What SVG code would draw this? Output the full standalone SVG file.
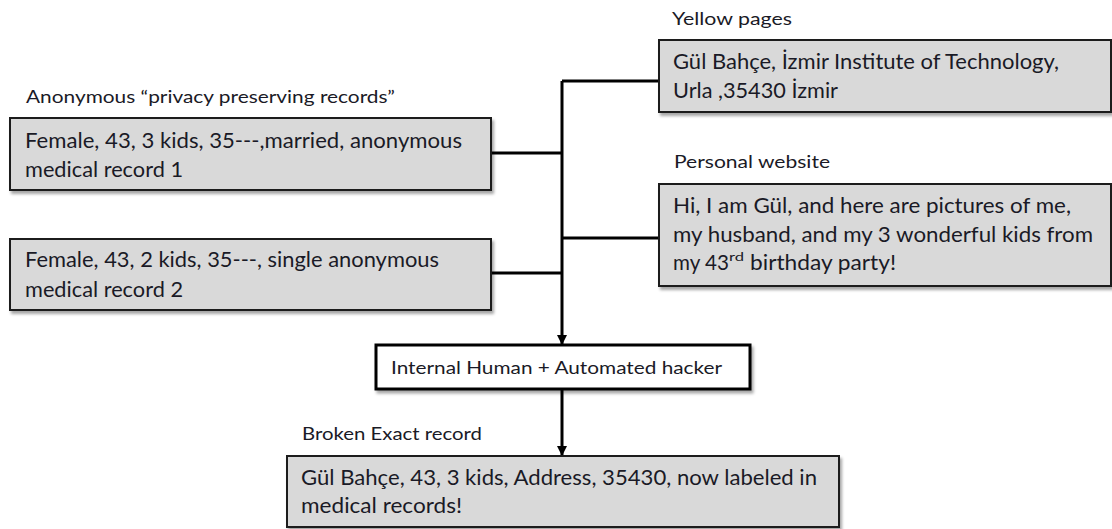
<svg xmlns="http://www.w3.org/2000/svg" width="1112" height="529" viewBox="0 0 1112 529">
  <defs>
    <filter id="shadow" x="-5%" y="-10%" width="115%" height="130%">
      <feDropShadow dx="2" dy="3" stdDeviation="1.5" flood-color="#000" flood-opacity="0.35"/>
    </filter>
    <marker id="arrow" viewBox="0 0 10 10" refX="10" refY="5" markerWidth="10" markerHeight="10" markerUnits="userSpaceOnUse" orient="auto">
      <path d="M0,0 L10,5 L0,10 Z" fill="#000"/>
    </marker>
    <style>
      .rec { fill: #d9d9d9; stroke: #1a1a1a; stroke-width: 2; filter: url(#shadow); }
      .proc { fill: #ffffff; stroke: #000; stroke-width: 3; filter: url(#shadow); }
      .txt { font-family: Lato, "Open Sans", sans-serif; font-size: 21px; fill: #1a1a26; }
      .lbl { font-family: Lato, "Open Sans", sans-serif; font-size: 18px; fill: #1a1a26; }
      .sup { font-family: Lato, "Open Sans", sans-serif; font-size: 12px; fill: #1a1a26; }
      .wire { fill: none; stroke: #000; stroke-width: 3; }
    </style>
  </defs>

  <!-- connectors -->
  <g id="connectors">
    <path class="wire" d="M562,81 L562,345" marker-end="url(#arrow)"/>
    <path class="wire" d="M562,81 L659,81"/>
    <path class="wire" d="M491,153 L562,153"/>
    <path class="wire" d="M562,238 L659,238"/>
    <path class="wire" d="M491,273 L562,273"/>
    <path class="wire" d="M562,389 L562,456" marker-end="url(#arrow)"/>
  </g>

  <!-- anonymous record 1 -->
  <g id="record1">
    <text class="lbl" x="26" y="103" textLength="369" lengthAdjust="spacingAndGlyphs">Anonymous “privacy preserving records”</text>
    <rect class="rec" x="10" y="118" width="481" height="72"/>
    <text class="txt" x="25" y="148" textLength="437" lengthAdjust="spacingAndGlyphs">Female, 43, 3 kids, 35---,married, anonymous</text>
    <text class="txt" x="25" y="177" textLength="158" lengthAdjust="spacingAndGlyphs">medical record 1</text>
  </g>

  <!-- anonymous record 2 -->
  <g id="record2">
    <rect class="rec" x="10" y="239" width="481" height="71"/>
    <text class="txt" x="25" y="267" textLength="414" lengthAdjust="spacingAndGlyphs">Female, 43, 2 kids, 35---, single anonymous</text>
    <text class="txt" x="25" y="297" textLength="158" lengthAdjust="spacingAndGlyphs">medical record 2</text>
  </g>

  <!-- yellow pages -->
  <g id="yellow-pages">
    <text class="lbl" x="672" y="25" textLength="120" lengthAdjust="spacingAndGlyphs">Yellow pages</text>
    <rect class="rec" x="659" y="40" width="452" height="72"/>
    <text class="txt" x="673" y="69" textLength="386" lengthAdjust="spacingAndGlyphs">Gül Bahçe, İzmir Institute of Technology,</text>
    <text class="txt" x="673" y="98" textLength="165" lengthAdjust="spacingAndGlyphs">Urla ,35430 İzmir</text>
  </g>

  <!-- personal website -->
  <g id="personal-website">
    <text class="lbl" x="674" y="168" textLength="156" lengthAdjust="spacingAndGlyphs">Personal website</text>
    <rect class="rec" x="659" y="184" width="452" height="102"/>
    <text class="txt" x="673" y="213" textLength="398" lengthAdjust="spacingAndGlyphs">Hi, I am Gül, and here are pictures of me,</text>
    <text class="txt" x="673" y="242" textLength="420" lengthAdjust="spacingAndGlyphs">my husband, and my 3 wonderful kids from</text>
    <text class="txt" x="673" y="270" textLength="56" lengthAdjust="spacingAndGlyphs">my 43</text>
    <text class="sup" x="729" y="261" textLength="15" lengthAdjust="spacingAndGlyphs">rd</text>
    <text class="txt" x="750" y="270" textLength="146" lengthAdjust="spacingAndGlyphs">birthday party!</text>
  </g>

  <!-- hacker -->
  <g id="hacker">
    <rect class="proc" x="376" y="345" width="374" height="44"/>
    <text class="lbl" x="391" y="374" textLength="331" lengthAdjust="spacingAndGlyphs">Internal Human + Automated hacker</text>
  </g>

  <!-- broken exact record -->
  <g id="broken-record">
    <text class="lbl" x="302" y="440" textLength="180" lengthAdjust="spacingAndGlyphs">Broken Exact record</text>
    <rect class="rec" x="287" y="456" width="552" height="71"/>
    <text class="txt" x="301" y="485" textLength="516" lengthAdjust="spacingAndGlyphs">Gül Bahçe, 43, 3 kids, Address, 35430,  now labeled in</text>
    <text class="txt" x="301" y="513" textLength="161" lengthAdjust="spacingAndGlyphs">medical records!</text>
  </g>
</svg>
